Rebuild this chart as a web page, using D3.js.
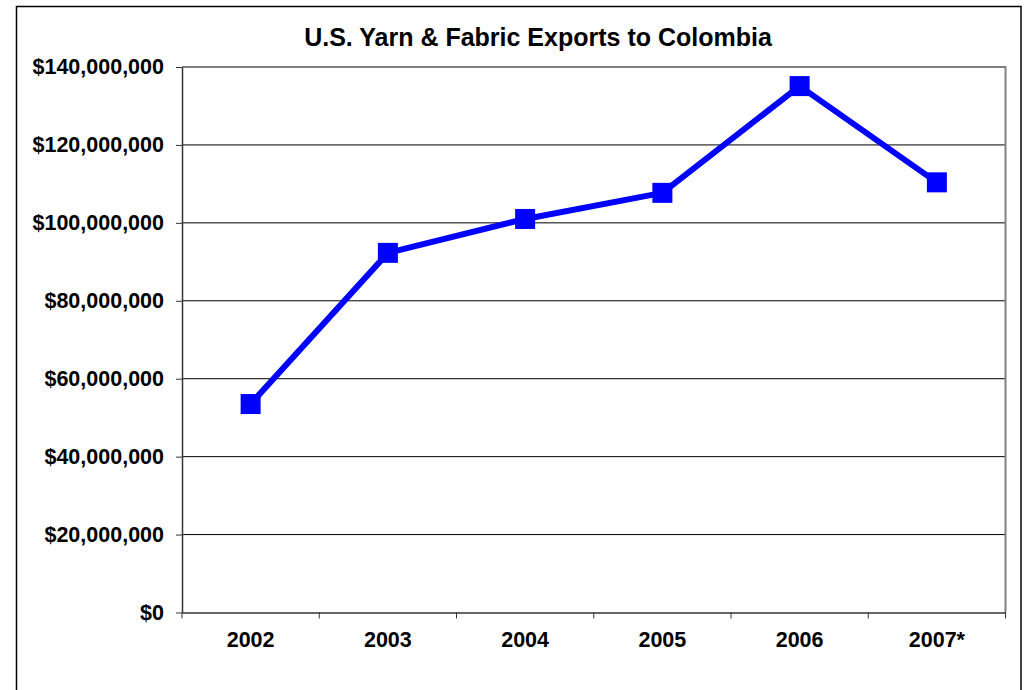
<!DOCTYPE html>
<html>
<head>
<meta charset="utf-8">
<script src="https://cdn.jsdelivr.net/npm/d3@7"></script>
<style>
html,body{margin:0;padding:0;background:#fff;}
svg{display:block;}
text{font-family:"Liberation Sans",Arial,sans-serif;font-weight:bold;fill:#000;}
</style>
</head>
<body>
<svg id="chart" width="1031" height="690"></svg>
<script>
const title = "U.S. Yarn & Fabric Exports to Colombia";
const categories = ["2002","2003","2004","2005","2006","2007*"];
const exportsValues = [53500000, 92300000, 101000000, 107700000, 135100000, 110400000];
const yTicks = [0,20000000,40000000,60000000,80000000,100000000,120000000,140000000];

const svg = d3.select("#chart");
const m = {left:182, top:67, right:1005.5, bottom:612.5};

// outer frame
svg.append("rect").attr("x",16.5).attr("y",6.5).attr("width",1004.5).attr("height",700)
  .attr("fill","none").attr("stroke","#000").attr("stroke-width",1.5);

const x = d3.scaleBand().domain(categories).range([m.left,m.right]).padding(0);
const y = d3.scaleLinear().domain([0,140000000]).range([m.bottom,m.top]);

// gridlines
svg.append("g").selectAll("line").data(yTicks.filter(d=>d>0 && d<140000000)).join("line")
  .attr("x1",m.left).attr("x2",m.right).attr("y1",d=>y(d)).attr("y2",d=>y(d))
  .attr("stroke","#000").attr("stroke-width",1);

// plot border top/right gray
svg.append("path").attr("d",`M${m.left},${m.top}H${m.right}V${m.bottom}`)
  .attr("fill","none").attr("stroke","#808080").attr("stroke-width",2);

// y axis
const fmt = d => "$" + d3.format(",")(d);
const yAxis = svg.append("g").attr("transform",`translate(${m.left},0)`)
  .call(d3.axisLeft(y).tickValues(yTicks).tickFormat(fmt).tickSizeInner(6).tickSizeOuter(0).tickPadding(12));
yAxis.attr("font-size",null).attr("font-family",null);
yAxis.select(".domain").attr("stroke","#333").attr("stroke-width",1.5);
yAxis.selectAll(".tick line").attr("stroke","#333");
yAxis.selectAll("text").style("font-size","21.5px").attr("fill","#000");

// x axis
const xAxis = svg.append("g").attr("transform",`translate(0,${m.bottom})`)
  .call(d3.axisBottom(x).tickSize(0).tickPadding(0));
xAxis.attr("font-size",null).attr("font-family",null);
xAxis.select(".domain").attr("stroke","#333").attr("stroke-width",1.5);
xAxis.selectAll("text").style("font-size","21.5px").attr("dy",null).attr("y",34).attr("fill","#000");
// category boundary ticks
const bounds = categories.map(c=>x(c)).concat([m.right]);
svg.append("g").selectAll("line").data(bounds).join("line")
  .attr("x1",d=>d).attr("x2",d=>d).attr("y1",m.bottom).attr("y2",m.bottom+6)
  .attr("stroke","#333").attr("stroke-width",1);

// line
const cx = c => x(c) + x.bandwidth()/2;
const data = categories.map((c,i)=>({c, v:exportsValues[i]}));
svg.append("path").datum(data)
  .attr("d", d3.line().x(d=>cx(d.c)).y(d=>y(d.v)))
  .attr("fill","none").attr("stroke","#0000ff").attr("stroke-width",6).attr("stroke-linejoin","round");
svg.append("g").selectAll("rect").data(data).join("rect")
  .attr("x",d=>cx(d.c)-10).attr("y",d=>y(d.v)-10).attr("width",20).attr("height",20)
  .attr("fill","#0000ff");

// title
svg.append("text").attr("x",538).attr("y",46).attr("text-anchor","middle")
  .style("font-size","25px").text(title);
</script>
</body>
</html>
